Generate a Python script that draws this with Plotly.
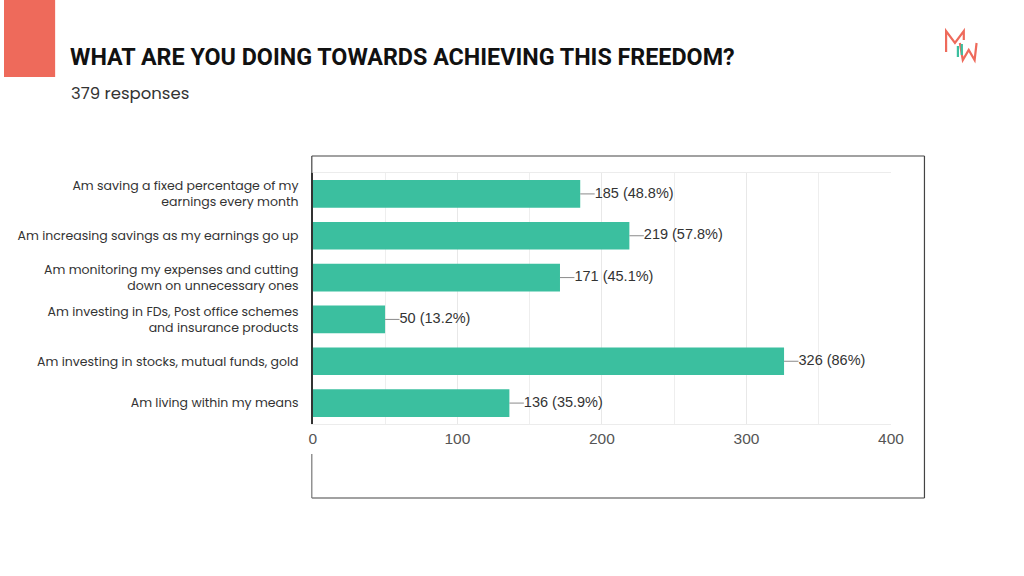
import plotly.graph_objects as go

categories = [
    "Am saving a fixed percentage of my<br>earnings every month",
    "Am increasing savings as my earnings go up",
    "Am monitoring my expenses and cutting<br>down on unnecessary ones",
    "Am investing in FDs, Post office schemes<br>and insurance products",
    "Am investing in stocks, mutual funds, gold",
    "Am living within my means",
]
counts = [185, 219, 171, 50, 326, 136]
percents = ["48.8%", "57.8%", "45.1%", "13.2%", "86%", "35.9%"]
x_ticks = [0, 100, 200, 300, 400]

TITLE = "WHAT ARE YOU DOING TOWARDS ACHIEVING THIS FREEDOM?"
SUBTITLE = "379 responses"

W, H = 1024, 576
BAR = "#3BBF9F"
SALMON = "#EE6A5B"

def px(x):
    return x / W

def py(y):
    return 1 - y / H

fig = go.Figure()
fig.add_trace(go.Bar(
    y=categories, x=counts, orientation="h",
    marker=dict(color=BAR, line=dict(width=0)), width=0.66,
    hoverinfo="skip",
))

lead = 10
lx, ly = [], []
for c, v in zip(categories, counts):
    lx += [v, v + lead, None]
    ly += [c, c, None]
fig.add_trace(go.Scatter(x=lx, y=ly, mode="lines",
                         line=dict(color="#8a8a8a", width=1), hoverinfo="skip"))
fig.add_trace(go.Scatter(
    x=[v + lead for v in counts], y=categories, mode="text",
    text=[f"{v} ({p})" for v, p in zip(counts, percents)],
    textposition="middle right",
    textfont=dict(family="Liberation Sans, Arial", size=14.5, color="#333333"),
    cliponaxis=False, hoverinfo="skip",
))

fig.update_layout(
    width=W, height=H,
    margin=dict(l=0, r=0, t=0, b=0),
    paper_bgcolor="white", plot_bgcolor="white",
    showlegend=False,
    xaxis=dict(
        domain=[px(314), px(902)], range=[0, 400],
        tickvals=x_ticks, ticktext=[str(t) for t in x_ticks],
        showgrid=True, gridcolor="#e8e8e8", gridwidth=1,
        minor=dict(dtick=50, showgrid=True, gridcolor="#eeeeee"),
        zeroline=False,
        showline=True, linecolor="#ececec", mirror=True,
        tickfont=dict(family="Liberation Sans, Arial", size=15.5, color="#555555"),
        fixedrange=True,
    ),
    yaxis=dict(
        domain=[py(424), py(173)],
        autorange="reversed",
        showgrid=False, zeroline=False,
        showline=True, linecolor="#333333", linewidth=1.5,
        tickfont=dict(family="Poppins, Open Sans, Noto Sans", size=12.5, color="#333333"),
        ticklabelstandoff=10,
        fixedrange=True,
    ),
)

shapes = [
    dict(type="rect", xref="paper", yref="paper", x0=0, x1=px(52), y0=py(77), y1=1,
         fillcolor=SALMON, line=dict(width=0), layer="below"),
    dict(type="line", xref="paper", yref="paper", x0=px(313), x1=px(936), y0=py(156), y1=py(156),
         line=dict(color="#444444", width=1.2)),
    dict(type="line", xref="paper", yref="paper", x0=px(936), x1=px(936), y0=py(156), y1=py(498),
         line=dict(color="#444444", width=1.2)),
    dict(type="line", xref="paper", yref="paper", x0=px(313), x1=px(936), y0=py(498), y1=py(498),
         line=dict(color="#444444", width=1.2)),
    dict(type="line", xref="paper", yref="paper", x0=px(313), x1=px(313), y0=py(156), y1=py(173),
         line=dict(color="#444444", width=1.2)),
    dict(type="line", xref="paper", yref="paper", x0=px(313), x1=px(313), y0=py(454), y1=py(498),
         line=dict(color="#777777", width=1.2)),
]

def path(pts):
    return "M " + " L ".join(f"{px(x)},{py(y)}" for x, y in pts)

shapes.append(dict(type="path", xref="paper", yref="paper",
                   path=path([(958, 52), (958, 31), (967, 43), (976, 31), (976, 40)]),
                   line=dict(color=SALMON, width=2.2)))
shapes.append(dict(type="path", xref="paper", yref="paper",
                   path=path([(972, 43), (975, 60), (981, 50), (987, 60), (989, 43)]),
                   line=dict(color=SALMON, width=2.2)))
shapes.append(dict(type="path", xref="paper", yref="paper",
                   path=path([(970, 46), (970, 57)]), line=dict(color=BAR, width=2.2)))
shapes.append(dict(type="path", xref="paper", yref="paper",
                   path=path([(974, 44), (974, 55)]), line=dict(color=BAR, width=2.2)))

fig.update_layout(shapes=shapes)

fig.add_annotation(xref="paper", yref="paper", x=px(65), y=py(57), xanchor="left", yanchor="middle",
                   text=f"<b>{TITLE}</b>", showarrow=False,
                   font=dict(family="Roboto, Liberation Sans", size=23.3, color="#111111"))
fig.add_annotation(xref="paper", yref="paper", x=px(66), y=py(93), xanchor="left", yanchor="middle",
                   text=SUBTITLE, showarrow=False,
                   font=dict(family="Poppins, Open Sans, Noto Sans", size=16.5, color="#333333"))

fig.write_html("out.html")
